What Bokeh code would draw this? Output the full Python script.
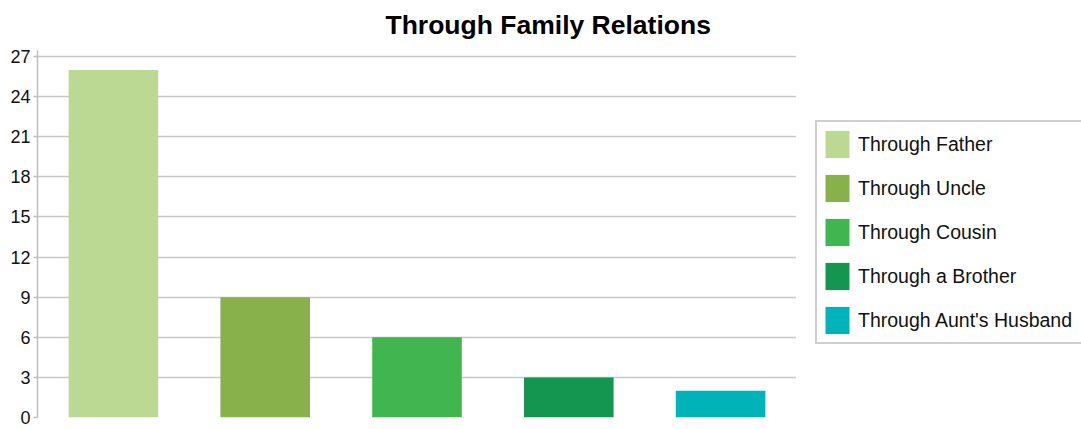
from bokeh.plotting import figure
from bokeh.layouts import row
from bokeh.models import ColumnDataSource, FactorRange, Range1d, FixedTicker, Legend, LegendItem, Title
from bokeh.embed import file_html
from bokeh.resources import INLINE

categories = ["Through Father", "Through Uncle", "Through Cousin", "Through a Brother", "Through Aunt's Husband"]
counts = [26, 9, 6, 3, 2]
colors = ["#bcd993", "#88b04b", "#41b550", "#149650", "#00b3b8"]
y_ticks = [0, 3, 6, 9, 12, 15, 18, 21, 24, 27]
title_text = "Through Family Relations"

src = ColumnDataSource(dict(cat=categories, val=counts, col=colors))

# main chart
p = figure(width=796, height=429, x_range=FactorRange(*categories, range_padding=0),
           y_range=Range1d(0, 27.45), output_backend="svg", toolbar_location=None,
           min_border_left=37, min_border_right=0, min_border_top=50, min_border_bottom=12)
p.title = None
t = Title(text=title_text, text_font="Liberation Sans", text_font_size="26.5px",
          text_font_style="bold", text_color="#000000", align="left", offset=348,
          vertical_align="top", standoff=18)
p.add_layout(t, "above")

r = p.vbar(x="cat", top="val", width=0.59, source=src, fill_color="col", line_color=None)

p.xaxis.visible = False
p.xgrid.visible = False
p.outline_line_color = None
p.background_fill_color = "white"
p.border_fill_color = "white"

p.yaxis.ticker = FixedTicker(ticks=y_ticks)
p.yaxis.minor_tick_line_color = None
p.yaxis.major_tick_in = 0
p.yaxis.major_tick_out = 4
p.yaxis.major_label_standoff = 3
p.yaxis.axis_line_color = "#c0c0c0"
p.yaxis.axis_line_width = 1.5
p.yaxis.major_tick_line_color = "#c0c0c0"
p.yaxis.major_tick_line_width = 1.5
p.yaxis.major_label_text_font = "Liberation Sans"
p.yaxis.major_label_text_font_size = "18px"
p.yaxis.major_label_text_color = "#111111"

p.ygrid.ticker = FixedTicker(ticks=y_ticks)
p.ygrid.grid_line_color = "#c8c8c8"
p.ygrid.grid_line_width = 1.5

# legend panel
p2 = figure(width=285, height=429, x_range=FactorRange(*categories), y_range=Range1d(0, 1),
            output_backend="svg", toolbar_location=None, min_border=0,
            x_axis_location=None, y_axis_location=None)
p2.title = None
p2.grid.visible = False
p2.outline_line_color = None
p2.background_fill_color = "white"
p2.border_fill_color = "white"
r2 = p2.vbar(x="cat", top="val", width=0.59, source=src, fill_color="col", line_color=None)
r2.visible = False

items = [LegendItem(label=c, renderers=[r2], index=i) for i, c in enumerate(categories)]
legend = Legend(items=items, location=(19, 73), orientation="vertical",
                glyph_width=30, glyph_height=34, label_standoff=6, spacing=10,
                padding=5, margin=0, label_width=230, label_text_font="Liberation Sans",
                label_text_font_size="19.5px", label_text_color="#111111",
                border_line_color="#a0a0a0", border_line_width=2,
                background_fill_color="white", background_fill_alpha=1,
                inactive_fill_alpha=0)
p2.add_layout(legend, "center")

layout = row(p, p2, spacing=0)
open("out.html", "w").write(file_html(layout, INLINE))
